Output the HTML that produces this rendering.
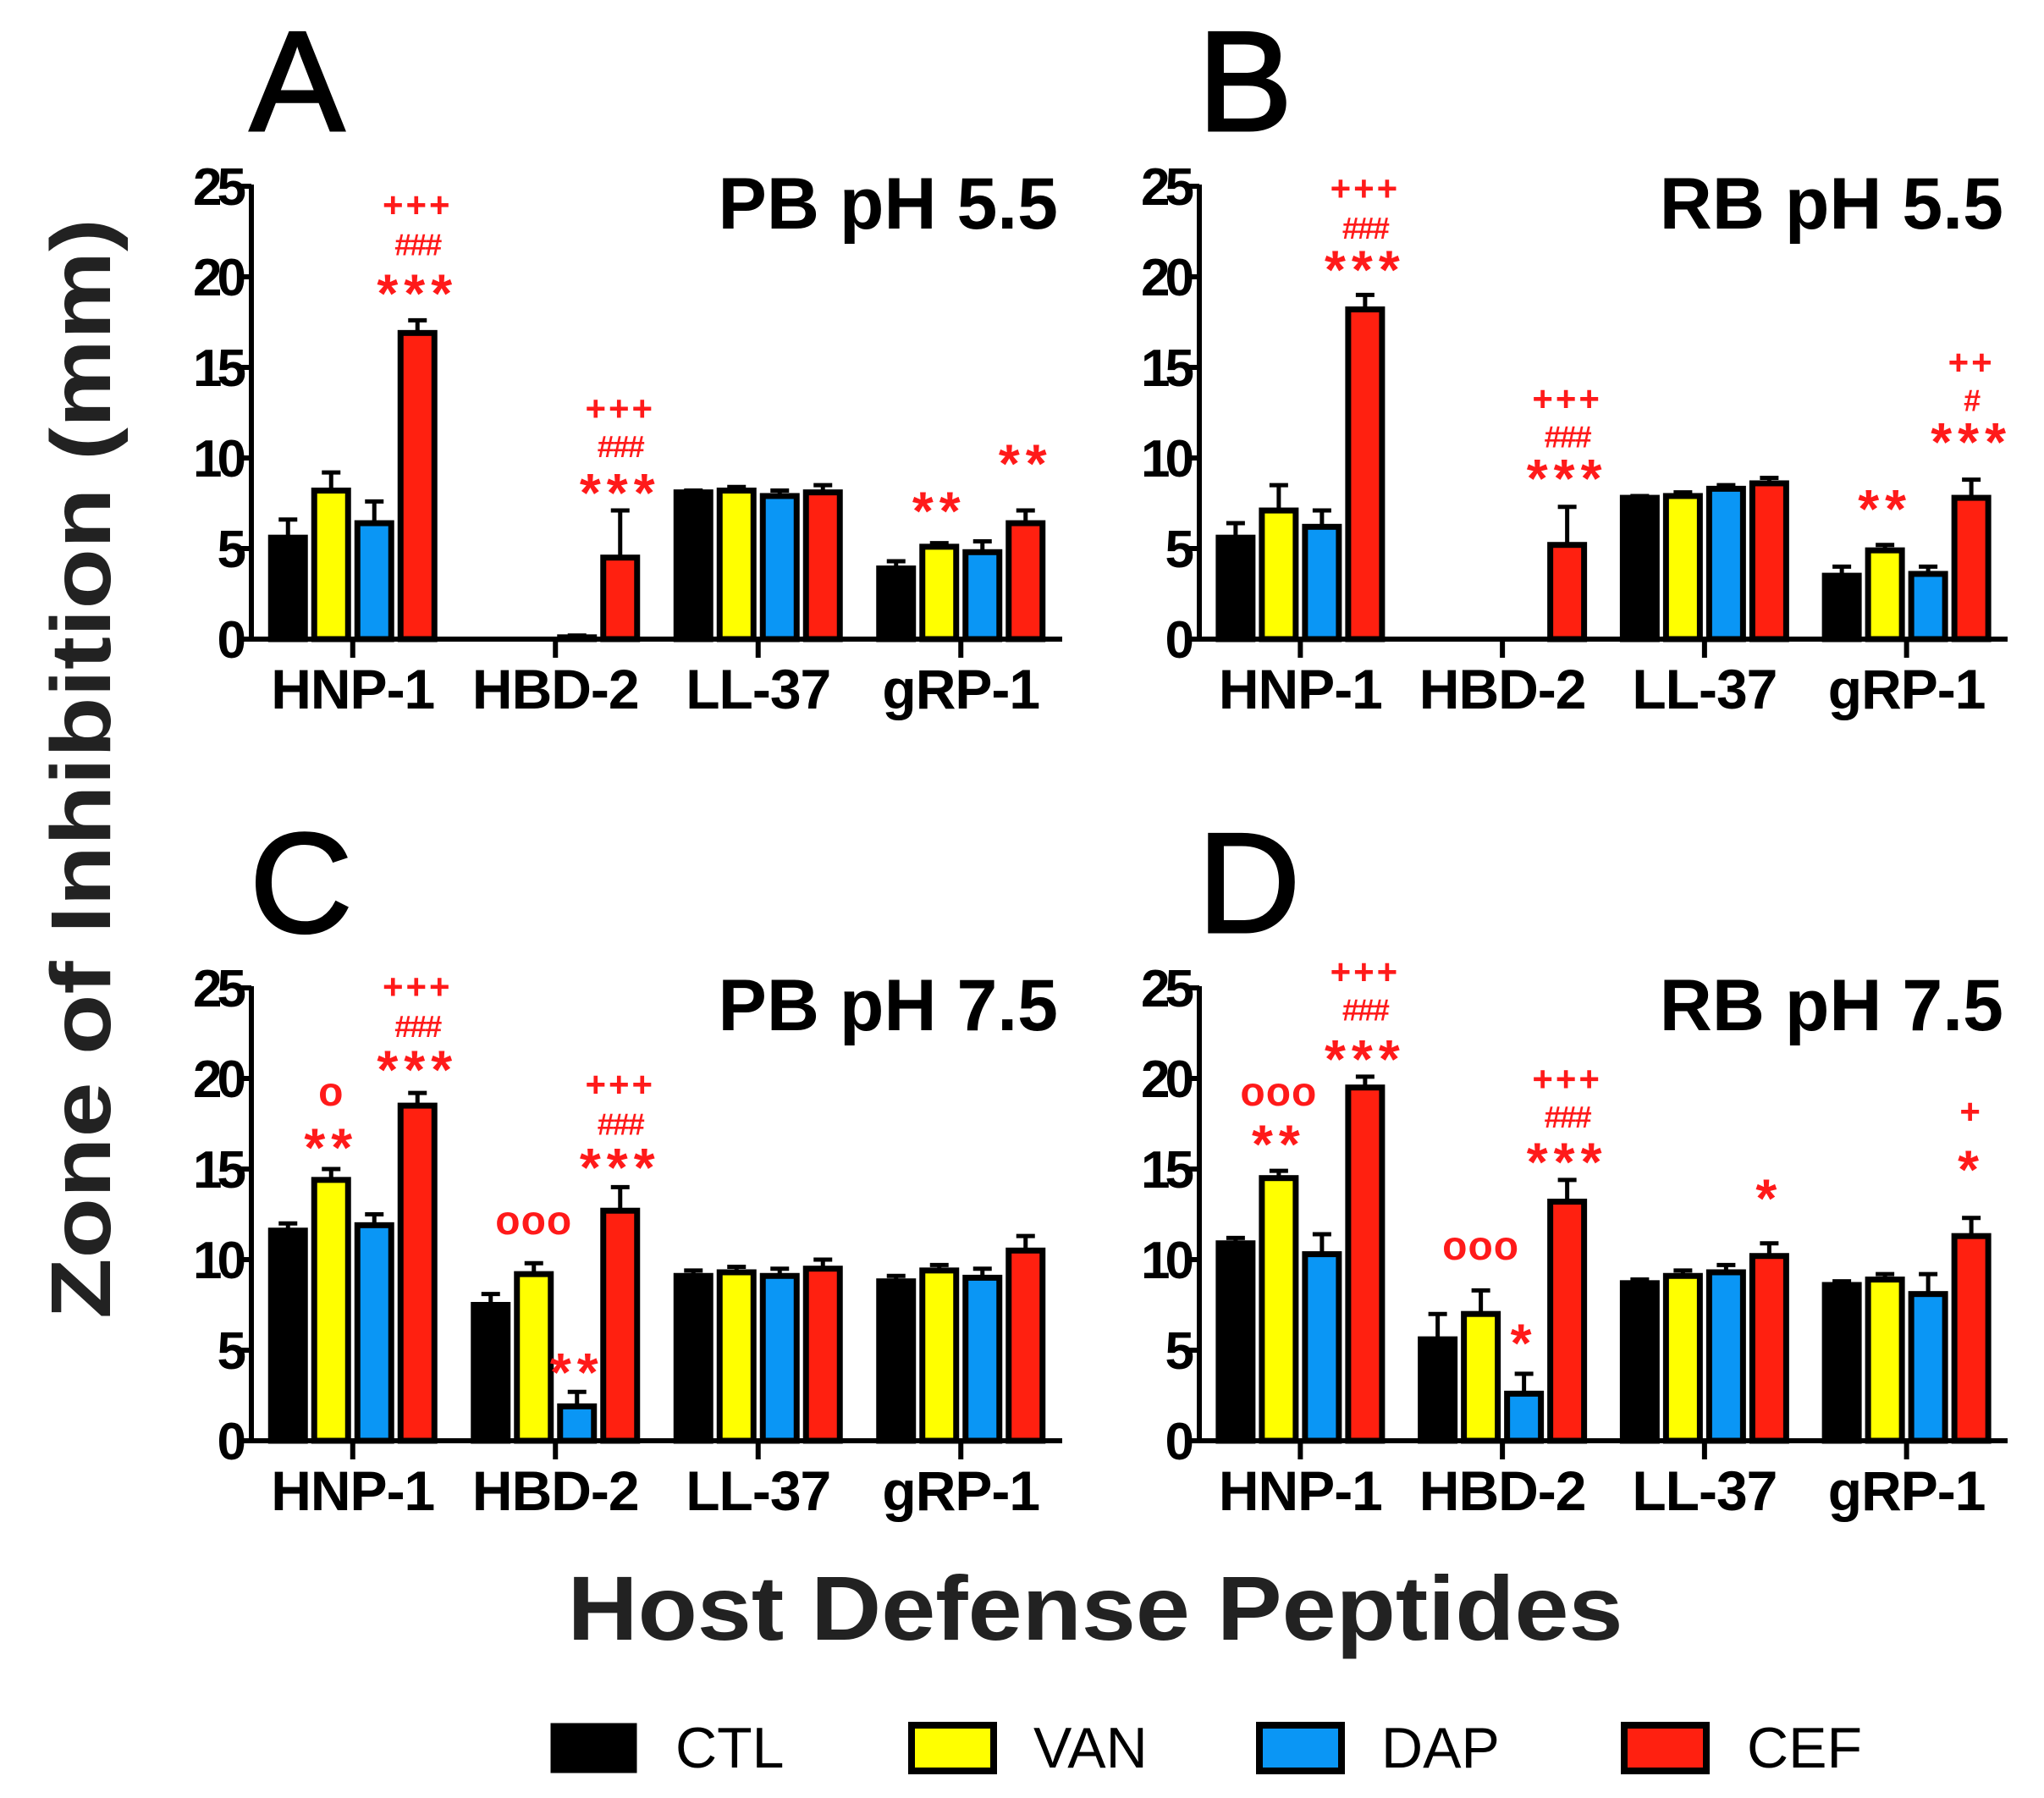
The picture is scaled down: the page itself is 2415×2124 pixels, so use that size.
<!DOCTYPE html>
<html><head><meta charset="utf-8"><style>
html,body{margin:0;padding:0;background:#fff;}
svg{display:block;font-family:"Liberation Sans",Arial,sans-serif;}
</style></head><body>
<svg id="chart" xmlns="http://www.w3.org/2000/svg" width="2415" height="2124" viewBox="0 0 2415 2124">
<text transform="translate(130,908) rotate(-90)" text-anchor="middle" font-size="100" font-weight="bold" fill="#222" textLength="1300" lengthAdjust="spacingAndGlyphs">Zone of Inhibition (mm)</text>
<text x="1294" y="1937" text-anchor="middle" font-size="108" font-weight="bold" fill="#222" textLength="1247" lengthAdjust="spacingAndGlyphs">Host Defense Peptides</text>
<g>
<g><rect x="653" y="2038" width="97" height="54" fill="#000" stroke="#000" stroke-width="5"/><text x="798" y="2088" font-size="68">CTL</text></g>
<g><rect x="1077" y="2038" width="97" height="54" fill="#ffff00" stroke="#000" stroke-width="8"/><text x="1221" y="2088" font-size="68">VAN</text></g>
<g><rect x="1488" y="2038" width="97" height="54" fill="#0a96f5" stroke="#000" stroke-width="8"/><text x="1632" y="2088" font-size="68">DAP</text></g>
<g><rect x="1919" y="2038" width="97" height="54" fill="#ff2010" stroke="#000" stroke-width="8"/><text x="2064" y="2088" font-size="68">CEF</text></g>
</g>
</svg>
<script>
const categories = ["HNP-1","HBD-2","LL-37","gRP-1"];
const seriesNames = ["CTL","VAN","DAP","CEF"];
const yTicks = [0,5,10,15,20,25];
const panelLetters = ["A","B","C","D"];
const panelTitles = ["PB pH 5.5","RB pH 5.5","PB pH 7.5","RB pH 7.5"];
// values [series][category]
const valuesA = [[5.6,0,8.1,3.9],[8.2,0,8.2,5.1],[6.4,0.1,7.9,4.8],[16.9,4.5,8.1,6.4]];
const errorsA = [[1.0,0,0.1,0.4],[1.0,0,0.2,0.2],[1.2,0.1,0.3,0.6],[0.7,2.6,0.4,0.7]];
const valuesB = [[5.6,0,7.8,3.5],[7.1,0,7.9,4.9],[6.2,0,8.3,3.6],[18.2,5.2,8.6,7.8]];
const errorsB = [[0.8,0,0.1,0.5],[1.4,0,0.2,0.3],[0.9,0,0.2,0.4],[0.8,2.1,0.3,1.0]];
const valuesC = [[11.6,7.5,9.1,8.8],[14.4,9.2,9.3,9.4],[11.9,1.9,9.1,9.0],[18.5,12.7,9.5,10.5]];
const errorsC = [[0.4,0.6,0.3,0.3],[0.6,0.6,0.3,0.3],[0.6,0.8,0.4,0.5],[0.7,1.3,0.5,0.8]];
const valuesD = [[10.9,5.6,8.7,8.6],[14.5,7.0,9.1,8.9],[10.3,2.6,9.3,8.1],[19.5,13.2,10.2,11.3]];
const errorsD = [[0.3,1.4,0.2,0.2],[0.4,1.3,0.3,0.3],[1.1,1.1,0.4,1.1],[0.6,1.2,0.7,1.0]];
// annotations: [category, series, value-level, text]
const annotA = [[0,3,24.0,"+++"],[0,3,21.8,"###"],[0,3,19.6,"***"],[1,3,12.75,"+++"],[1,3,10.66,"###"],[1,3,8.6,"***"],[3,1,7.6,"**"],[3,3,10.2,"**"]];
const annotB = [[0,3,24.9,"+++"],[0,3,22.7,"###"],[0,3,20.9,"***"],[1,3,13.3,"+++"],[1,3,11.2,"###"],[1,3,9.4,"***"],[3,1,7.7,"**"],[3,3,15.3,"++"],[3,3,13.2,"#"],[3,3,11.4,"***"]];
const annotC = [[0,1,19.2,"o"],[0,1,16.7,"**"],[0,3,25.1,"+++"],[0,3,22.9,"###"],[0,3,21.0,"***"],[1,1,12.1,"ooo"],[1,2,4.3,"**"],[1,3,19.7,"+++"],[1,3,17.5,"###"],[1,3,15.6,"***"]];
const annotD = [[0,1,19.2,"ooo"],[0,1,16.9,"**"],[0,3,25.9,"+++"],[0,3,23.8,"###"],[0,3,21.6,"***"],[1,1,10.7,"ooo"],[1,2,5.9,"*"],[1,3,20.0,"+++"],[1,3,17.9,"###"],[1,3,15.9,"***"],[2,3,13.9,"*"],[3,3,18.2,"+"],[3,3,15.5,"*"]];

const colors = ["#000000","#ffff00","#0a96f5","#ff2010"];
const NS = "http://www.w3.org/2000/svg";
const svg = document.getElementById("chart");
function mk(tag, attrs, parent){const e=document.createElementNS(NS,tag);for(const k in attrs)e.setAttribute(k,attrs[k]);(parent||svg).appendChild(e);return e;}

const panels = [
  {ax:297, axEnd:1255, y0:755, y25:220, vals:valuesA, errs:errorsA, ann:annotA},
  {ax:1417, axEnd:2372, y0:755, y25:220, vals:valuesB, errs:errorsB, ann:annotB},
  {ax:297, axEnd:1255, y0:1702, y25:1167, vals:valuesC, errs:errorsC, ann:annotC},
  {ax:1417, axEnd:2372, y0:1702, y25:1167, vals:valuesD, errs:errorsD, ann:annotD}
];

panels.forEach((p, pi) => {
  const g = mk("g", {});
  
  
  const yS = v => p.y0 - (p.y0 - p.y25) * v / 25;
  const catW = (p.axEnd - p.ax) / 4;
  const xC = c => p.ax + catW * (c + 0.5);
  const pitch = 51, bw = 40;
  const xB = (c, s) => xC(c) + (s - 1.5) * pitch;

  const letter = mk("text", {x:p.ax-2, y:p.y0-601, "font-size":168, fill:"#000", stroke:"#000", "stroke-width":3}, g);
  letter.textContent = panelLetters[pi];
  
  
  const title = mk("text", {x:p.axEnd-5, y:p.y0-485, "font-size":86, "font-weight":"bold", "text-anchor":"end"}, g);
  title.textContent = panelTitles[pi];
  
  

  for (let s = 0; s < 4; s++) for (let c = 0; c < 4; c++) {
    const v = p.vals[s][c], e = p.errs[s][c];
    const x = xB(c, s);
    if (e > 0) {
      const eb = mk("path", {d:`M${x} ${yS(v)} V${yS(v+e)} M${x-11} ${yS(v+e)} H${x+11}`, stroke:"#000", "stroke-width":5, fill:"none"}, g);
      
      
    }
    if (v > 0) {
      const r = mk("rect", {x:x-bw/2, y:yS(v), width:bw, height:yS(0)-yS(v), fill:colors[s], stroke:"#000", "stroke-width":7}, g);
      
      
    }
  }
  const axis = mk("path", {d:`M${p.ax} ${p.y25-2} V${p.y0} H${p.axEnd}`, stroke:"#000", "stroke-width":6, fill:"none"}, g);
  
  
  yTicks.forEach(t => {
    const tk = mk("line", {x1:p.ax-12, x2:p.ax, y1:yS(t), y2:yS(t), stroke:"#000", "stroke-width":6}, g);
    
    
    const tl = mk("text", {x:p.ax-12, y:yS(t)+22, "font-size":62, "font-weight":"bold", "text-anchor":"end", "letter-spacing":-6}, g);
    tl.textContent = t;
    
    
  });
  categories.forEach((c, ci) => {
    const tk = mk("line", {x1:xC(ci), x2:xC(ci), y1:p.y0, y2:p.y0+22, stroke:"#000", "stroke-width":6}, g);
    
    
    const tl = mk("text", {x:xC(ci), y:p.y0+82, "font-size":66, "font-weight":"bold", "text-anchor":"middle", "letter-spacing":-1}, g);
    tl.textContent = c;
    
    
  });
  p.ann.forEach(a => {
    const txt = a[3];
    let fs = 42, dy = 15, ls = 3;
    if (txt[0] === "*") { fs = 64; dy = 33; ls = 7; }
    else if (txt[0] === "#") { fs = 36; dy = 13; ls = -2; }
    else if (txt[0] === "o") { fs = 48; dy = 15; ls = 1; }
    const t = mk("text", {x:xB(a[0], a[1]), y:yS(a[2])+dy, "font-size":fs, "font-weight":"bold", fill:"#ff1a1a", "text-anchor":"middle", "letter-spacing":ls}, g);
    t.textContent = txt;
    
    
  });
});
</script>
</body></html>
